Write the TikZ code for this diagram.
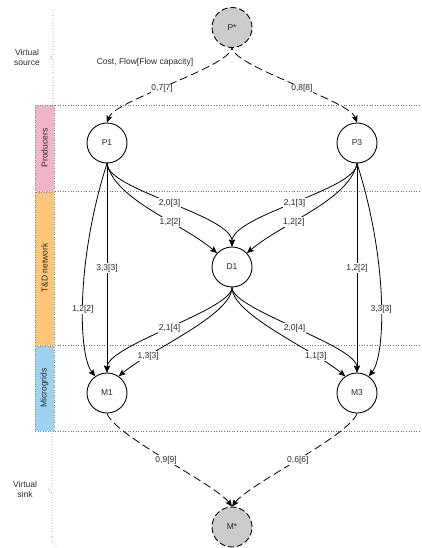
\documentclass[tikz,border=0pt]{standalone}
\usepackage{fontspec}
\setmainfont{Liberation Sans}
\usetikzlibrary{arrows.meta}
\definecolor{pinkband}{RGB}{242,180,202}
\definecolor{orangeband}{RGB}{255,197,120}
\definecolor{blueband}{RGB}{158,210,242}
\definecolor{txt}{RGB}{40,40,40}
\tikzset{
  vnode/.style={circle, draw=black, line width=0.9pt, minimum size=40pt, inner sep=0pt, text=txt},
  virt/.style={vnode, fill=black!20, dash pattern=on 6pt off 3pt},
  flow/.style={-{Stealth[length=7pt,width=6pt,inset=1.5pt]}, line width=0.8pt},
  vflow/.style={flow, dash pattern=on 8pt off 4pt},
  lbl/.style={fill=white, inner sep=0.8pt, text=txt},
  sep/.style={draw=black!55, dotted, line width=0.6pt},
  band/.style={draw=black!45, dotted, line width=0.5pt},
  bandtxt/.style={rotate=90, text=txt},
  side/.style={align=center, text=txt}
}
\begin{document}
\begin{tikzpicture}[x=1pt,y=-1pt,font=\fontsize{8.5}{10}\selectfont]
\useasboundingbox (0,0) rectangle (421,548);

% bands
\path[band, fill=pinkband] (35,105) rectangle (54,191);
\path[band, fill=orangeband] (35,192) rectangle (54,345);
\path[band, fill=blueband] (35,346) rectangle (54,431);
\node[bandtxt] (tp) at (44.5,148) {Producers};
\node[bandtxt] (tt) at (44.5,268) {T\&D network};
\node[bandtxt] (tm) at (44.5,388) {Microgrids};

% separators
\draw[sep] (55,105) -- (421,105);
\draw[sep] (55,191) -- (421,191);
\draw[sep] (55,345) -- (421,345);
\draw[sep] (55,431) -- (421,431);

% braces
\draw[sep] (53,10) -- (53,55) -- (50,57.5) -- (53,60) -- (53,105);
\draw[sep] (52,431) -- (52,487) -- (48,490) -- (52,493) -- (52,543) -- (57,547);
\node[side] (vs) at (27,57) {Virtual\\source};
\node[side] (vk) at (25,489) {Virtual\\sink};
\node[text=txt] (legend) at (145,62) {Cost, Flow[Flow capacity]};

% nodes
\node[virt] (Ps) at (232,27.5) {P*};
\node[vnode] (P1) at (107,143) {P1};
\node[vnode] (P3) at (357,143) {P3};
\node[vnode] (D1) at (232,267) {D1};
\node[vnode] (M1) at (107,393) {M1};
\node[vnode] (M3) at (357,393) {M3};
\node[virt] (Ms) at (232,527) {M*};

% virtual source edges
\draw[vflow, dash phase=6pt] (Ps.south) .. controls (228,68) and (115,100) .. (P1.north) node[lbl,pos=0.55] {0,7[7]};
\draw[vflow, dash phase=6pt] (Ps.south) .. controls (236,68) and (349,100) .. (P3.north) node[lbl,pos=0.55] {0,8[8]};

% producers to D1
\draw[flow] (P1.south) .. controls (107,190) and (232,215) .. (D1.north) node[lbl,pos=0.5] {2,0[3]};
\draw[flow] (P1.south) .. controls (115,200) and (180,222) .. (D1.137) node[lbl,pos=0.64] {1,2[2]};
\draw[flow] (P3.south) .. controls (357,190) and (232,215) .. (D1.north) node[lbl,pos=0.5] {2,1[3]};
\draw[flow] (P3.south) .. controls (349,200) and (284,222) .. (D1.43) node[lbl,pos=0.64] {1,2[2]};

% producers to microgrids
\draw[flow] (P1.south) -- (M1.north) node[lbl,pos=0.5] {3,3[3]};
\draw[flow] (P1.south) .. controls (76,260) and (78,355) .. (M1.125) node[lbl,pos=0.55] {1,2[2]};
\draw[flow] (P3.south) -- (M3.north) node[lbl,pos=0.5] {1,2[2]};
\draw[flow] (P3.south) .. controls (388,260) and (386,355) .. (M3.55) node[lbl,pos=0.55] {3,3[3]};

% D1 to microgrids
\draw[flow] (D1.south) .. controls (232,310) and (107,345) .. (M1.north) node[lbl,pos=0.5] {2,1[4]};
\draw[flow] (D1.south) .. controls (232,315) and (150,350) .. (M1.55) node[lbl,pos=0.76] {1,3[3]};
\draw[flow] (D1.south) .. controls (232,310) and (357,345) .. (M3.north) node[lbl,pos=0.5] {2,0[4]};
\draw[flow] (D1.south) .. controls (232,315) and (314,350) .. (M3.125) node[lbl,pos=0.76] {1,1[3]};

% virtual sink edges
\draw[vflow] (M1.south) .. controls (115,436) and (215,484) .. (Ms.north) node[lbl,pos=0.5] {0,9[9]};
\draw[vflow] (M3.south) .. controls (349,436) and (249,484) .. (Ms.north) node[lbl,pos=0.5] {0,6[6]};
\end{tikzpicture}
\end{document}
